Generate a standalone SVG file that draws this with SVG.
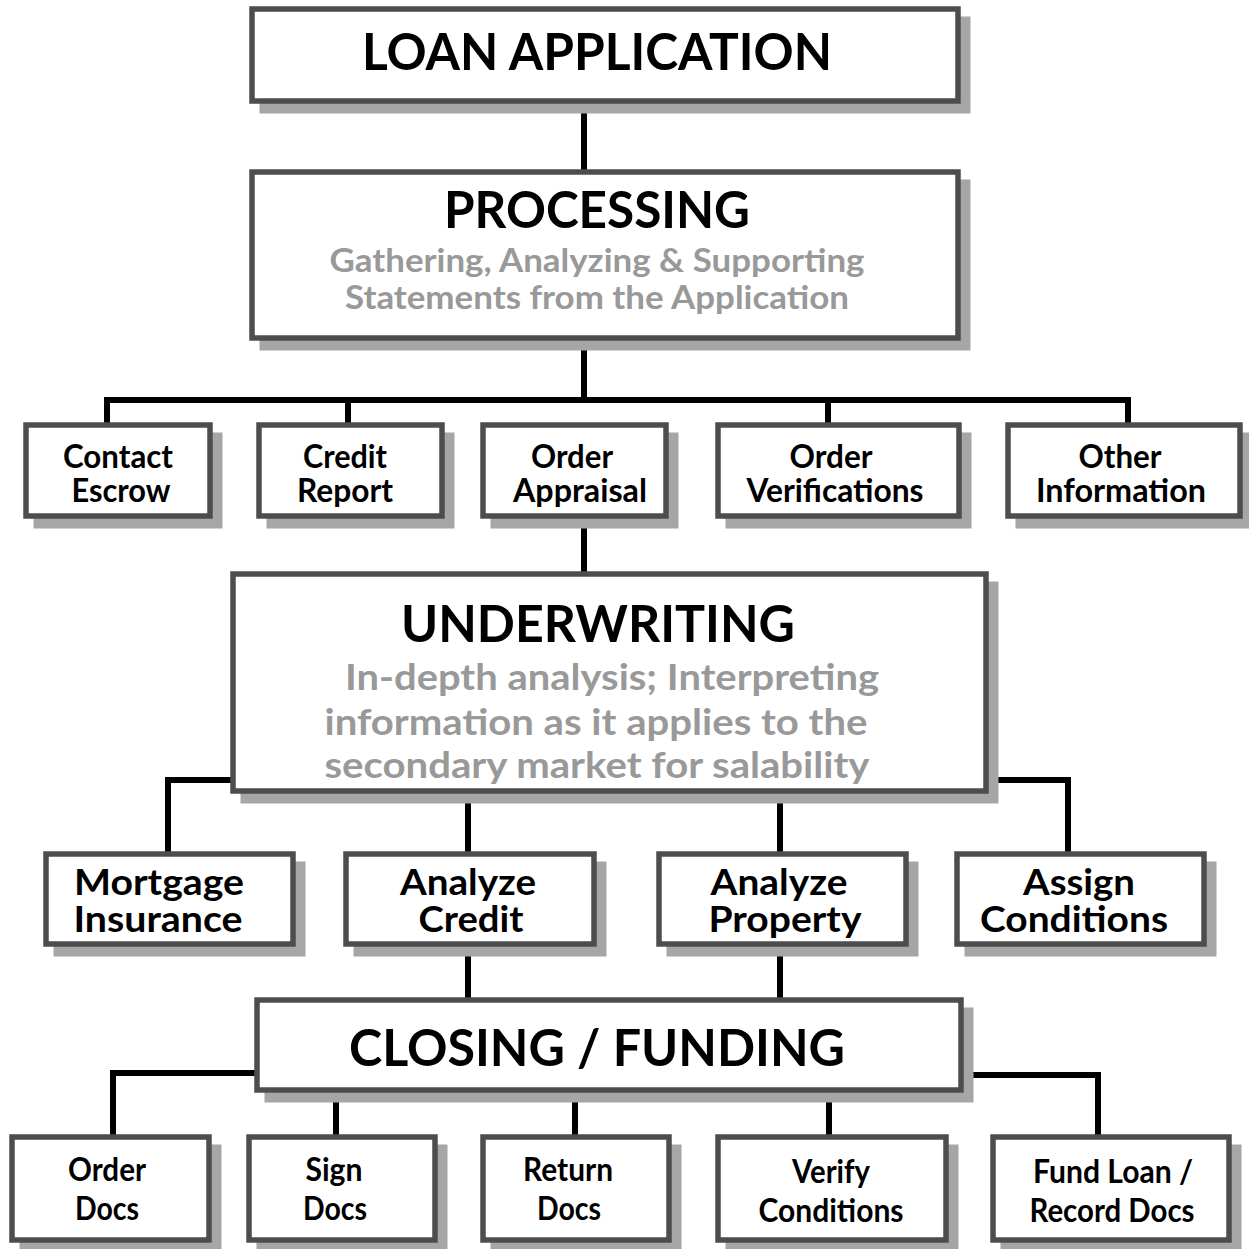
<svg xmlns="http://www.w3.org/2000/svg" width="1249" height="1249" viewBox="0 0 1249 1249">
<style>
.bg{fill:#fff}
.sh{fill:#a6a6a6}
.box{fill:#fff;stroke:#4d4d4d;stroke-width:5.5}
.c{fill:none;stroke:#000;stroke-width:6}
text{font-family:Lato,"Open Sans","Liberation Sans",sans-serif;font-weight:700;fill:#000;text-anchor:middle}
.big{font-size:52px}
.sub{font-size:33px;fill:#999}
.sub2{font-size:36px;fill:#999}
.s1{font-size:32px}
.s2{font-size:37px}
.s3{font-size:33px}
</style>
<rect class="bg" x="0" y="0" width="1249" height="1249"/>
<g id="connectors">
<path class="c" d="M584,101 V172"/>
<path class="c" d="M584,338 V400"/>
<path class="c" d="M107,425 V400 H1128 V425"/>
<path class="c" d="M348,400 V425 M828,400 V425"/>
<path class="c" d="M584,516 V574"/>
<path class="c" d="M233,780 H168 V854"/>
<path class="c" d="M986,780 H1068 V854"/>
<path class="c" d="M468,791 V854 M780,791 V854"/>
<path class="c" d="M468,944 V1000 M780,944 V1000"/>
<path class="c" d="M257,1073 H113 V1137"/>
<path class="c" d="M961,1075 H1098 V1137"/>
<path class="c" d="M336,1090 V1137 M575,1090 V1137 M829,1090 V1137"/>
</g>
<g id="loan-application">
<rect class="sh" x="259.5" y="16.5" width="711" height="97"/>
<rect class="box" x="252" y="9" width="706" height="92"/>
<text class="big" x="597" y="70" textLength="470" lengthAdjust="spacingAndGlyphs">LOAN APPLICATION</text>
</g>
<g id="processing">
<rect class="sh" x="259.5" y="179.5" width="711" height="171"/>
<rect class="box" x="252" y="172" width="706" height="166"/>
<text class="big" x="597" y="228" textLength="306" lengthAdjust="spacingAndGlyphs">PROCESSING</text>
<text class="sub" x="597" y="272" textLength="535" lengthAdjust="spacingAndGlyphs">Gathering, Analyzing &amp; Supporting</text>
<text class="sub" x="597" y="309" textLength="504" lengthAdjust="spacingAndGlyphs">Statements from the Application</text>
</g>
<g id="contact-escrow">
<rect class="sh" x="33.5" y="432.5" width="189" height="96"/>
<rect class="box" x="26" y="425" width="184" height="91"/>
<text class="s1" x="118" y="468" textLength="110" lengthAdjust="spacingAndGlyphs">Contact</text>
<text class="s1" x="121" y="502" textLength="99" lengthAdjust="spacingAndGlyphs">Escrow</text>
</g>
<g id="credit-report">
<rect class="sh" x="266.5" y="432.5" width="188" height="96"/>
<rect class="box" x="259" y="425" width="183" height="91"/>
<text class="s1" x="345" y="468" textLength="84" lengthAdjust="spacingAndGlyphs">Credit</text>
<text class="s1" x="345" y="502" textLength="96" lengthAdjust="spacingAndGlyphs">Report</text>
</g>
<g id="order-appraisal">
<rect class="sh" x="490.5" y="432.5" width="188" height="96"/>
<rect class="box" x="483" y="425" width="183" height="91"/>
<text class="s1" x="572" y="468" textLength="82" lengthAdjust="spacingAndGlyphs">Order</text>
<text class="s1" x="580" y="502" textLength="134" lengthAdjust="spacingAndGlyphs">Appraisal</text>
</g>
<g id="order-verifications">
<rect class="sh" x="725.5" y="432.5" width="246" height="96"/>
<rect class="box" x="718" y="425" width="241" height="91"/>
<text class="s1" x="831" y="468" textLength="83" lengthAdjust="spacingAndGlyphs">Order</text>
<text class="s1" x="835" y="502" textLength="177" lengthAdjust="spacingAndGlyphs">Verifications</text>
</g>
<g id="other-information">
<rect class="sh" x="1015.5" y="432.5" width="237" height="96"/>
<rect class="box" x="1008" y="425" width="232" height="91"/>
<text class="s1" x="1120" y="468" textLength="83" lengthAdjust="spacingAndGlyphs">Other</text>
<text class="s1" x="1121" y="502" textLength="170" lengthAdjust="spacingAndGlyphs">Information</text>
</g>
<g id="underwriting">
<rect class="sh" x="240.5" y="581.5" width="758" height="222"/>
<rect class="box" x="233" y="574" width="753" height="217"/>
<text class="big" x="598" y="642" textLength="394" lengthAdjust="spacingAndGlyphs">UNDERWRITING</text>
<text class="sub2" x="612" y="690" textLength="534" lengthAdjust="spacingAndGlyphs">In-depth analysis; Interpreting</text>
<text class="sub2" x="596" y="735" textLength="543" lengthAdjust="spacingAndGlyphs">information as it applies to the</text>
<text class="sub2" x="597" y="778" textLength="545" lengthAdjust="spacingAndGlyphs">secondary market for salability</text>
</g>
<g id="mortgage-insurance">
<rect class="sh" x="53.5" y="861.5" width="252" height="95"/>
<rect class="box" x="46" y="854" width="247" height="90"/>
<text class="s2" x="159" y="895" textLength="170" lengthAdjust="spacingAndGlyphs">Mortgage</text>
<text class="s2" x="158" y="932" textLength="169" lengthAdjust="spacingAndGlyphs">Insurance</text>
</g>
<g id="analyze-credit">
<rect class="sh" x="353.5" y="861.5" width="253" height="95"/>
<rect class="box" x="346" y="854" width="248" height="90"/>
<text class="s2" x="468" y="895" textLength="136" lengthAdjust="spacingAndGlyphs">Analyze</text>
<text class="s2" x="471" y="932" textLength="105" lengthAdjust="spacingAndGlyphs">Credit</text>
</g>
<g id="analyze-property">
<rect class="sh" x="666.5" y="861.5" width="252" height="95"/>
<rect class="box" x="659" y="854" width="247" height="90"/>
<text class="s2" x="779" y="895" textLength="137" lengthAdjust="spacingAndGlyphs">Analyze</text>
<text class="s2" x="785" y="932" textLength="153" lengthAdjust="spacingAndGlyphs">Property</text>
</g>
<g id="assign-conditions">
<rect class="sh" x="964.5" y="861.5" width="252" height="95"/>
<rect class="box" x="957" y="854" width="247" height="90"/>
<text class="s2" x="1079" y="895" textLength="112" lengthAdjust="spacingAndGlyphs">Assign</text>
<text class="s2" x="1074" y="932" textLength="188" lengthAdjust="spacingAndGlyphs">Conditions</text>
</g>
<g id="closing-funding">
<rect class="sh" x="264.5" y="1007.5" width="709" height="95"/>
<rect class="box" x="257" y="1000" width="704" height="90"/>
<text class="big" x="597" y="1066" textLength="496" lengthAdjust="spacingAndGlyphs">CLOSING / FUNDING</text>
</g>
<g id="order-docs">
<rect class="sh" x="19.5" y="1144.5" width="202" height="108"/>
<rect class="box" x="12" y="1137" width="197" height="103"/>
<text class="s3" x="107" y="1181" textLength="78" lengthAdjust="spacingAndGlyphs">Order</text>
<text class="s3" x="107" y="1220" textLength="64" lengthAdjust="spacingAndGlyphs">Docs</text>
</g>
<g id="sign-docs">
<rect class="sh" x="256.5" y="1144.5" width="191" height="108"/>
<rect class="box" x="249" y="1137" width="186" height="103"/>
<text class="s3" x="334" y="1181" textLength="57" lengthAdjust="spacingAndGlyphs">Sign</text>
<text class="s3" x="335" y="1220" textLength="64" lengthAdjust="spacingAndGlyphs">Docs</text>
</g>
<g id="return-docs">
<rect class="sh" x="490.5" y="1144.5" width="191" height="108"/>
<rect class="box" x="483" y="1137" width="186" height="103"/>
<text class="s3" x="568" y="1181" textLength="90" lengthAdjust="spacingAndGlyphs">Return</text>
<text class="s3" x="569" y="1220" textLength="64" lengthAdjust="spacingAndGlyphs">Docs</text>
</g>
<g id="verify-conditions">
<rect class="sh" x="725.5" y="1144.5" width="233" height="108"/>
<rect class="box" x="718" y="1137" width="228" height="103"/>
<text class="s3" x="831" y="1183" textLength="78" lengthAdjust="spacingAndGlyphs">Verify</text>
<text class="s3" x="831" y="1222" textLength="145" lengthAdjust="spacingAndGlyphs">Conditions</text>
</g>
<g id="fund-loan-record-docs">
<rect class="sh" x="1000.5" y="1144.5" width="241" height="108"/>
<rect class="box" x="993" y="1137" width="236" height="103"/>
<text class="s3" x="1113" y="1183" textLength="160" lengthAdjust="spacingAndGlyphs">Fund Loan /</text>
<text class="s3" x="1112" y="1222" textLength="165" lengthAdjust="spacingAndGlyphs">Record Docs</text>
</g>
</svg>
